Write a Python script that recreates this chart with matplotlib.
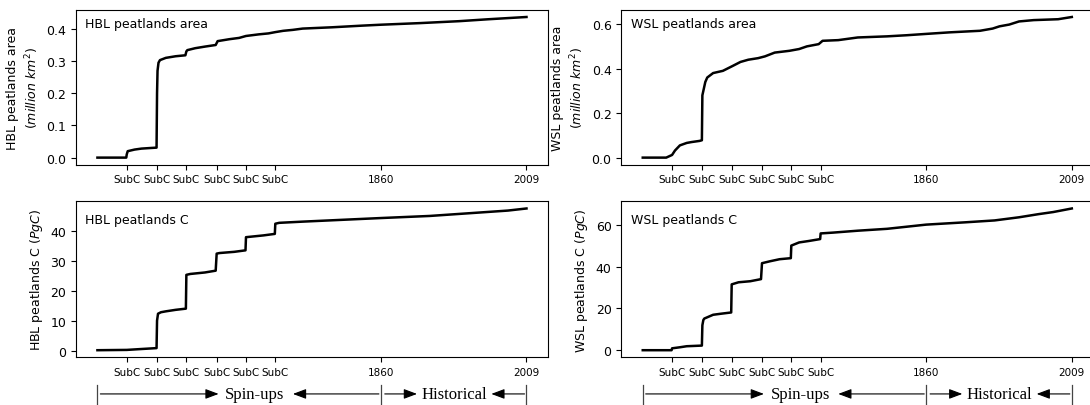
import numpy as np
import matplotlib
matplotlib.use("Agg")
import matplotlib.pyplot as plt
import matplotlib.transforms as mtransforms

# x positions (model year index): spin-up start, 6 SubC ticks, 1860, 2009
tick_pos = [30, 61, 91, 122, 152, 182, 290, 439]
tick_labels = ['SubC', 'SubC', 'SubC', 'SubC', 'SubC', 'SubC', '1860', '2009']

# HBL peatlands area (million km2)
hbl_area_x = [0, 29.5, 30, 31, 38, 45, 55, 60.5, 61, 61.5, 62.5, 64, 70, 80, 90, 91, 92, 100, 110, 121,
              122, 123, 135, 145, 152, 165, 175, 182, 190, 200, 210, 240, 270, 290, 330, 370, 400, 439]
hbl_area_y = [0.0, 0.0, 0.01, 0.02, 0.025, 0.028, 0.03, 0.031, 0.2, 0.27, 0.295, 0.303, 0.31, 0.315, 0.318,
              0.33, 0.334, 0.34, 0.345, 0.35, 0.356, 0.362, 0.368, 0.372, 0.378, 0.383, 0.386, 0.39,
              0.394, 0.397, 0.401, 0.405, 0.41, 0.413, 0.418, 0.424, 0.43, 0.437]

# HBL peatlands C (PgC)
hbl_c_x = [0, 30, 45, 60.5, 61, 62, 65, 70, 80, 90.5, 91, 95, 110, 121, 122, 125, 140, 151.5, 152, 155,
           170, 181.5, 182, 186, 210, 250, 290, 340, 380, 420, 439]
hbl_c_y = [0.1, 0.2, 0.5, 0.8, 10.0, 12.3, 12.8, 13.1, 13.6, 14.0, 25.3, 25.6, 26.1, 26.7, 32.4, 32.6,
           33.0, 33.5, 37.9, 38.0, 38.5, 39.0, 42.4, 42.7, 43.1, 43.7, 44.3, 45.0, 45.9, 46.8, 47.5]

# WSL peatlands area (million km2)
wsl_area_x = [0, 24, 30, 33, 38, 45, 50, 58, 60.5, 61, 62, 64, 66, 72, 82, 92, 100, 108, 118, 125, 135,
              150, 160, 168, 180, 184, 200, 220, 250, 270, 290, 314, 345, 358, 365, 375, 385, 400, 425, 439]
wsl_area_y = [0.0, 0.0, 0.012, 0.032, 0.055, 0.066, 0.07, 0.075, 0.078, 0.28, 0.3, 0.34, 0.36, 0.38, 0.39,
              0.412, 0.43, 0.44, 0.447, 0.455, 0.472, 0.48, 0.488, 0.5, 0.51, 0.525, 0.528, 0.54, 0.545,
              0.55, 0.556, 0.563, 0.57, 0.58, 0.59, 0.598, 0.612, 0.618, 0.622, 0.632]

# WSL peatlands C (PgC)
wsl_c_x = [0, 29.5, 30, 38, 45, 60.5, 61, 62, 63, 67, 72, 80, 90.5, 91, 98, 110, 121, 122, 130, 140, 151.5,
           152, 160, 170, 181.5, 182, 195, 220, 250, 270, 290, 330, 360, 385, 405, 420, 439]
wsl_c_y = [0.1, 0.1, 1.0, 1.5, 2.0, 2.3, 12.0, 14.5, 15.2, 16.0, 17.0, 17.5, 18.1, 31.5, 32.5, 33.0, 34.0,
           41.6, 42.5, 43.5, 44.0, 50.0, 51.5, 52.2, 53.1, 55.8, 56.2, 57.1, 58.0, 59.0, 60.0, 61.1, 62.0,
           63.5, 65.0, 66.0, 67.7]

panels = [
    ([0.0697, 0.592, 0.433, 0.381], hbl_area_x, hbl_area_y, 'HBL peatlands area',
     'HBL peatlands area\n($million\\ km^2$)', [0.0, 0.1, 0.2, 0.3, 0.4], 0.91, False),
    ([0.570, 0.592, 0.433, 0.381], wsl_area_x, wsl_area_y, 'WSL peatlands area',
     'WSL peatlands area\n($million\\ km^2$)', [0.0, 0.2, 0.4, 0.6], 0.91, False),
    ([0.0697, 0.1175, 0.433, 0.384], hbl_c_x, hbl_c_y, 'HBL peatlands C',
     'HBL peatlands C ($PgC$)', [0, 10, 20, 30, 40], 0.885, True),
    ([0.570, 0.1175, 0.433, 0.384], wsl_c_x, wsl_c_y, 'WSL peatlands C',
     'WSL peatlands C ($PgC$)', [0, 20, 40, 60], 0.885, True),
]

fig = plt.figure(figsize=(10.9, 4.06), dpi=100)

for rect, xs, ys, title, ylab, yt, ty, bottom in panels:
    ax = fig.add_axes(rect)
    ax.plot(xs, ys, color='black', lw=1.8)
    ax.set_xticks(tick_pos)
    ax.set_xticklabels(tick_labels, fontsize=7.5)
    ax.set_yticks(yt)
    if isinstance(yt[0], float):
        ax.set_yticklabels(['%.1f' % v for v in yt])
    ax.tick_params(axis='y', labelsize=9)
    ax.set_ylabel(ylab, fontsize=9, linespacing=1.3)
    ax.text(0.02, ty, title, transform=ax.transAxes, fontsize=9, va='center', ha='left')
    if not bottom:
        continue

    # spin-up / historical annotations under the bottom panels
    trans = mtransforms.blended_transform_factory(ax.transData, ax.transAxes)
    y_arr = -0.235
    for xb in [0, 290, 439]:
        ax.plot([xb, xb], [-0.18, -0.32], transform=trans, color='#444444', lw=0.9, clip_on=False)
    arrow = dict(arrowstyle='-|>,head_length=0.8,head_width=0.3', color='black', lw=0.8,
                 shrinkA=0, shrinkB=0)
    for tip, tail in [(124, 3), (200, 288), (327, 294), (403, 437)]:
        ax.annotate('', xy=(tip, y_arr), xytext=(tail, y_arr), xycoords=trans, textcoords=trans,
                    arrowprops=arrow, annotation_clip=False)
    ax.text(161, y_arr, 'Spin-ups', transform=trans, ha='center', va='center',
            family='Liberation Serif', fontsize=12)
    ax.text(365, y_arr, 'Historical', transform=trans, ha='center', va='center',
            family='Liberation Serif', fontsize=12)

fig.savefig('out.png', dpi=100)
